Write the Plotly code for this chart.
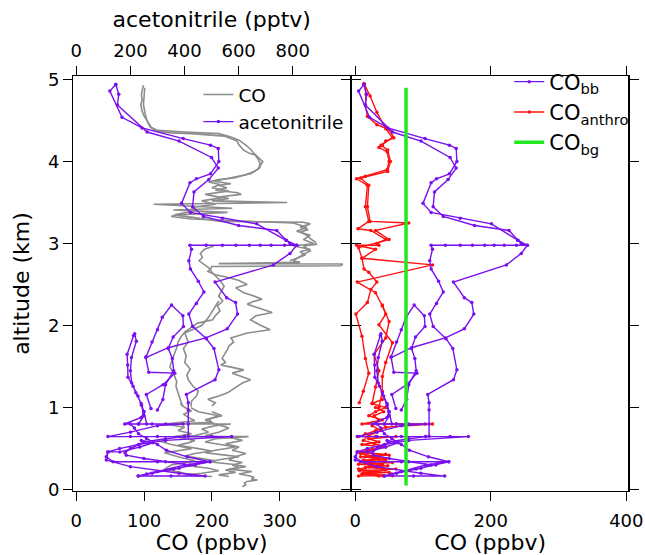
import plotly.graph_objects as go

# ---------------- data ----------------
# Acetonitrile (pptv, left panel top axis) and CO_bb (ppbv, right panel) profiles
p1_alt = [4.94, 4.86, 4.54, 4.41, 4.28, 4.20, 4.16, 4.00, 3.85, 3.79, 3.74, 3.49, 3.38, 3.31, 3.24, 3.04, 3.00,
          2.98, 2.98, 2.98, 2.98, 2.98, 2.98, 2.98, 2.98, 2.98, 2.93, 2.79, 2.69, 2.54, 2.41, 2.27, 2.14, 1.99,
          1.84, 1.72, 1.46, 1.34, 1.16, 1.06, 0.97, 0.80, 0.65]
p1_acn = [146, 124, 169, 243, 395, 496, 525, 527, 496, 444, 420, 389, 422, 540, 667, 776, 790,
          815, 770, 720, 680, 640, 590, 540, 480, 420, 426, 416, 422, 451, 472, 444, 416, 430,
          481, 509, 527, 513, 407, 414, 414, 414, 414]
p1_cobb = [13, 5, 21, 48, 103, 139, 149, 150, 139, 120, 112, 100, 112, 155, 201, 240, 245,
           254, 238, 220, 205, 191, 173, 155, 133, 112, 114, 110, 112, 123, 130, 120, 110, 115,
           134, 144, 150, 145, 107, 109, 109, 109, 109]

p2_alt = [0.99, 1.16, 1.28, 1.42, 1.43, 1.61, 1.73, 1.85, 1.96, 2.14, 2.28, 2.34, 2.53, 2.74, 2.88, 2.98,
          3.04, 3.16, 3.22, 3.33, 3.45, 3.63, 3.78, 3.92, 4.05, 4.25, 4.36, 4.69, 4.82, 4.94]
p2_acn = [276, 259, 321, 364, 268, 257, 340, 479, 558, 596, 589, 556, 513, 729, 790, 815,
          776, 741, 600, 470, 430, 435, 490, 525, 500, 380, 262, 152, 157, 146]
p2_cobb = [60, 54, 76, 91, 57, 53, 83, 133, 161, 175, 172, 161, 145, 223, 245, 254,
           240, 227, 176, 130, 115, 117, 137, 149, 140, 97, 55, 15, 17, 13]

p3_alt = [0.97, 1.10, 1.28, 1.45, 1.60, 1.72, 1.86, 1.99, 2.12, 2.25, 2.10, 1.95, 1.80, 1.62]
p3_acn = [300, 320, 330, 360, 355, 340, 358, 396, 394, 352, 318, 300, 280, 258]
p3_cobb = [68, 76, 79, 90, 88, 83, 89, 103, 102, 87, 75, 68, 61, 53]

p4_alt = [0.80, 0.90, 1.03, 1.14, 1.26, 1.37, 1.52, 1.65, 1.88, 1.90, 1.81, 1.61, 1.45, 1.30, 1.18, 1.05, 0.95, 0.80]
p4_acn = [230, 250, 241, 228, 210, 191, 190, 188, 212, 216, 222, 204, 200, 205, 220, 240, 250, 260]
p4_cobb = [43, 50, 47, 42, 36, 29, 29, 28, 37, 38, 40, 34, 32, 34, 40, 47, 50, 54]

p5_alt = [0.95, 0.88, 0.80, 0.80, 0.80, 0.80, 0.80, 0.78, 0.70, 0.646, 0.646, 0.646, 0.646, 0.646, 0.646,
          0.60, 0.55, 0.50, 0.46, 0.40, 0.34, 0.34, 0.34, 0.30, 0.22, 0.165, 0.165, 0.165, 0.20, 0.28,
          0.36, 0.46, 0.46, 0.52, 0.57, 0.60]
p5_acn = [250, 240, 179, 230, 280, 330, 395, 300, 200, 117, 200, 300, 400, 500, 574,
          330, 230, 160, 117, 111, 136, 300, 494, 400, 300, 229, 350, 476, 380, 200,
          111, 117, 161, 235, 284, 240]
p5_cobb = [50, 47, 25, 43, 61, 79, 103, 68, 32, 3, 32, 68, 104, 140, 167,
           79, 43, 18, 3, 0, 9, 68, 138, 104, 68, 43, 86, 132, 97, 32,
           0, 3, 18, 45, 63, 47]

p6_alt = [0.646, 0.62, 0.58, 0.50, 0.45, 0.42, 0.38, 0.34, 0.30, 0.26, 0.22, 0.19, 0.165, 0.20, 0.25,
          0.30, 0.34, 0.40, 0.48, 0.55, 0.62, 0.68, 0.75, 0.80]
p6_acn = [400, 330, 250, 200, 180, 185, 250, 330, 420, 380, 300, 260, 229, 280, 360,
          440, 494, 410, 333, 300, 260, 230, 215, 200]
p6_cobb = [104, 79, 50, 32, 25, 27, 50, 79, 112, 97, 68, 54, 43, 61, 90,
           119, 138, 108, 80, 68, 54, 43, 38, 32]

# Total CO (ppbv, left panel bottom axis)
g1_alt = [4.93, 4.88, 4.82, 4.75, 4.69, 4.62, 4.57, 4.49, 4.41, 4.37, 4.35, 4.34, 4.33, 4.31, 4.28, 4.25,
          4.20, 4.14, 4.10, 4.08, 4.03, 3.98, 3.94, 3.90, 3.85, 3.82, 3.79, 3.76, 3.73, 3.71, 3.68, 3.65,
          3.62, 3.60, 3.57, 3.55, 3.52, 3.50, 3.48, 3.45, 3.43, 3.41, 3.38, 3.35, 3.31, 3.27, 3.26, 3.24,
          3.20, 3.17, 3.14, 3.10, 3.06, 3.02, 2.99, 2.97, 2.94, 2.91, 2.87, 2.83, 2.79]
g1_co = [99, 98, 96, 97, 95, 97, 99, 105, 111, 118, 140, 170, 189, 218, 228, 237,
         240, 247, 255, 264, 268, 271, 270, 267, 257, 240, 223, 203, 228, 210, 222, 205,
         238, 243, 212, 225, 200, 311, 114, 180, 230, 143, 223, 145, 180, 213, 335, 345,
         330, 342, 330, 340, 345, 352, 354, 335, 340, 345, 335, 328, 320]

g2_alt = [4.90, 4.80, 4.70, 4.60, 4.50, 4.42, 4.38, 4.36, 4.34, 4.30, 4.26, 4.20, 4.15, 4.10, 4.05, 4.00,
          3.96, 3.92, 3.88, 3.84, 3.80, 3.78, 3.75, 3.72, 3.68, 3.64, 3.60, 3.56, 3.52, 3.48, 3.44, 3.40,
          3.36, 3.33, 3.30, 3.28, 3.25, 3.20, 3.15, 3.10, 3.05, 3.00, 2.97, 2.93, 2.90, 2.86, 2.82, 2.79]
g2_co = [101, 100, 99, 101, 104, 109, 120, 160, 210, 228, 240, 250, 257, 262, 268, 275,
         272, 270, 262, 250, 232, 210, 195, 212, 200, 225, 190, 215, 185, 205, 170, 175,
         150, 140, 170, 230, 320, 340, 325, 345, 335, 350, 320, 345, 330, 338, 325, 315]

g3_alt = [2.79, 2.77, 2.755, 2.75, 2.73, 2.72, 2.70, 2.66, 2.62, 2.59, 2.55, 2.50, 2.46, 2.40, 2.36, 2.32,
          2.29, 2.26, 2.21, 2.16, 2.12, 2.07, 2.01, 1.95, 1.91, 1.88, 1.85, 1.80, 1.75, 1.71, 1.65, 1.60,
          1.55, 1.52, 1.49, 1.46, 1.42, 1.38, 1.34, 1.30, 1.26, 1.22, 1.18, 1.14, 1.10, 1.06, 1.02]
g3_co = [320, 330, 210, 393, 390, 200, 199, 194, 205, 223, 240, 252, 235, 247, 262, 274,
         260, 252, 270, 289, 265, 257, 270, 286, 252, 240, 228, 232, 225, 223, 218, 215,
         220, 213, 230, 247, 230, 245, 257, 245, 237, 230, 223, 210, 194, 205, 200]

g4_alt = [2.97, 2.93, 2.88, 2.83, 2.79, 2.74, 2.70, 2.65, 2.60, 2.55, 2.48, 2.42, 2.36, 2.30, 2.24, 2.18,
          2.12, 2.07, 2.03, 1.98, 1.92, 1.87, 1.80, 1.73, 1.67, 1.60, 1.55, 1.50, 1.44, 1.38, 1.32, 1.26,
          1.18, 1.10, 1.01]
g4_co = [203, 189, 183, 186, 181, 190, 196, 200, 206, 212, 218, 214, 210, 216, 208, 212,
         205, 201, 179, 170, 160, 155, 150, 148, 145, 142, 140, 138, 142, 145, 148, 147,
         150, 153, 157]

g5_alt = [2.30, 2.20, 2.10, 2.00, 1.91, 1.80, 1.72, 1.63, 1.55, 1.47, 1.40, 1.34, 1.26, 1.20, 1.14, 1.08, 1.01]
g5_co = [210, 203, 195, 185, 160, 165, 158, 162, 160, 168, 163, 165, 172, 180, 177, 170, 169]

g6_alt = [1.00, 0.95, 0.90, 0.86, 0.82, 0.80, 0.80, 0.78, 0.74, 0.70, 0.66, 0.646, 0.646, 0.62, 0.58, 0.55,
          0.52, 0.48, 0.45, 0.42, 0.40, 0.37, 0.34, 0.31, 0.28, 0.25, 0.22, 0.19, 0.17, 0.15, 0.13, 0.117,
          0.10, 0.08, 0.06, 0.035]
g6_co = [169, 180, 210, 195, 200, 140, 228, 205, 185, 195, 175, 160, 254, 205, 190, 215,
         235, 205, 190, 220, 240, 215, 195, 230, 250, 225, 259, 240, 255, 262, 258, 267,
         252, 248, 250, 245]

g7_alt = [1.05, 1.00, 0.96, 0.92, 0.88, 0.84, 0.80, 0.76, 0.72, 0.68, 0.646, 0.62, 0.60, 0.57, 0.54, 0.50,
          0.47, 0.44, 0.41, 0.38, 0.35, 0.32, 0.29, 0.26, 0.23, 0.20, 0.18, 0.16]
g7_co = [153, 160, 170, 158, 165, 175, 130, 160, 150, 170, 145, 160, 175, 165, 150, 180,
         200, 175, 160, 185, 205, 180, 165, 195, 210, 185, 160, 200]

g8_alt = [0.95, 0.90, 0.85, 0.80, 0.75, 0.70, 0.66, 0.63, 0.60, 0.56, 0.52, 0.48, 0.44, 0.40, 0.36, 0.33,
          0.30, 0.27, 0.24, 0.21, 0.18, 0.16]
g8_co = [200, 215, 190, 205, 225, 210, 190, 230, 245, 220, 240, 230, 250, 235, 225, 245,
         230, 240, 220, 235, 210, 225]

g9_alt = [0.60, 0.55, 0.50, 0.45, 0.40, 0.35, 0.30, 0.25, 0.20, 0.16]
g9_co = [120, 140, 170, 130, 150, 175, 140, 130, 160, 190]

# CO_anthro (ppbv, right panel)
r1_alt = [4.95, 4.82, 4.69, 4.55, 4.45, 4.39, 4.29, 4.25, 4.20, 4.17, 4.12, 4.00, 3.90, 3.82, 3.79, 3.71,
          3.45, 3.27, 3.18, 3.16, 3.05, 3.00, 2.98, 2.98, 2.93, 2.82, 2.69, 2.65, 2.53, 2.44, 2.28, 2.14,
          1.87, 1.60, 1.42, 1.20, 1.06]
r1_co = [13, 16, 15, 18, 32, 50, 57, 45, 40, 35, 47, 50, 47, 15, 2, 18,
         15, 20, 4, 23, 45, 32, 35, 2, 30, 10, 13, 20, 32, 23, 18, 1,
         10, 15, 20, 12, 6]

r2_alt = [1.00, 1.20, 1.38, 1.55, 1.79, 2.01, 2.14, 2.24, 2.40, 2.53, 2.74, 2.82, 2.95, 3.05, 3.16, 3.25,
          3.27, 3.45, 3.71, 3.80, 3.88, 4.00, 4.14, 4.20, 4.29, 4.40, 4.60, 4.80, 4.95]
r2_co = [35, 40, 40, 45, 55, 35, 45, 40, 30, 3, 114, 10, 5, 50, 30, 79,
         22, 18, 20, 8, 48, 52, 48, 38, 55, 45, 32, 22, 13]

r3_alt = [1.10, 1.05, 1.00, 0.95, 0.90, 0.85, 0.80, 0.80, 0.80, 0.76, 0.72, 0.68, 0.646, 0.646, 0.646, 0.62,
          0.58, 0.55, 0.52, 0.49, 0.46, 0.43, 0.40, 0.37, 0.34, 0.31, 0.28, 0.25, 0.22, 0.19, 0.165]
r3_co = [40, 25, 45, 30, 20, 40, 10, 60, 114, 45, 30, 15, 5, 30, 60, 20,
         35, 10, 40, 25, 5, 45, 15, 35, 8, 40, 20, 5, 30, 10, 35]

r4_alt = [1.00, 0.95, 0.90, 0.84, 0.78, 0.72, 0.66, 0.60, 0.56, 0.52, 0.48, 0.44, 0.40, 0.36, 0.32, 0.28,
          0.24, 0.20, 0.17, 0.165]
r4_co = [30, 42, 28, 35, 25, 38, 20, 12, 28, 45, 20, 8, 30, 45, 15, 28, 45, 12, 40, 5]

r5_alt = [0.45, 0.42, 0.40, 0.38, 0.36, 0.33, 0.31, 0.29, 0.27, 0.25, 0.23, 0.21, 0.19, 0.17]
r5_co = [10, 50, 8, 45, 12, 55, 5, 48, 15, 60, 6, 50, 10, 55]

r6_alt = [1.05, 1.25, 1.45, 1.65, 1.85, 2.05, 2.25]
r6_co = [25, 30, 35, 28, 45, 50, 40]

# CO background
bg_alt = [0.05, 4.90]
bg_co = [75, 75]

# tick values
alt_ticks = [0, 1, 2, 3, 4, 5]
co_left_ticks = [0, 100, 200, 300]
acn_ticks = [0, 200, 400, 600, 800]
co_right_ticks = [0, 200, 400]

# ---------------- styles ----------------
GRAY = "#8c8c8c"
PURPLE = "#7a10ee"
RED = "#ff1010"
GREEN = "#22e822"
FONT = "DejaVu Sans"

fig = go.Figure()

gray_sets = [(g1_co, g1_alt), (g2_co, g2_alt), (g3_co, g3_alt), (g4_co, g4_alt), (g5_co, g5_alt),
             (g6_co, g6_alt), (g7_co, g7_alt), (g8_co, g8_alt), (g9_co, g9_alt)]
for i, (xv, yv) in enumerate(gray_sets):
    fig.add_trace(go.Scatter(x=xv, y=yv, mode="lines", line=dict(color=GRAY, width=1.6),
                             name="CO", legendgroup="co", showlegend=(i == 0), legend="legend",
                             xaxis="x", yaxis="y"))

acn_sets = [(p1_acn, p1_alt), (p2_acn, p2_alt), (p3_acn, p3_alt), (p4_acn, p4_alt),
            (p5_acn, p5_alt), (p6_acn, p6_alt)]
for i, (xv, yv) in enumerate(acn_sets):
    fig.add_trace(go.Scatter(x=xv, y=yv, mode="lines+markers", line=dict(color=PURPLE, width=1.4),
                             marker=dict(color=PURPLE, size=3.5),
                             name="acetonitrile", legendgroup="acn", showlegend=(i == 0), legend="legend",
                             xaxis="x2", yaxis="y"))

red_sets = [(r1_co, r1_alt), (r2_co, r2_alt), (r3_co, r3_alt), (r4_co, r4_alt), (r5_co, r5_alt), (r6_co, r6_alt)]
bb_sets = [(p1_cobb, p1_alt), (p2_cobb, p2_alt), (p3_cobb, p3_alt), (p4_cobb, p4_alt),
           (p5_cobb, p5_alt), (p6_cobb, p6_alt)]

for i, (xv, yv) in enumerate(red_sets):
    fig.add_trace(go.Scatter(x=xv, y=yv, mode="lines+markers", line=dict(color=RED, width=1.4),
                             marker=dict(color=RED, size=3.5),
                             name="CO<sub>anthro</sub>", legendgroup="anthro", showlegend=(i == 0),
                             legend="legend2", legendrank=2, xaxis="x3", yaxis="y2"))
for i, (xv, yv) in enumerate(bb_sets):
    fig.add_trace(go.Scatter(x=xv, y=yv, mode="lines+markers", line=dict(color=PURPLE, width=1.4),
                             marker=dict(color=PURPLE, size=3.5),
                             name="CO<sub>bb</sub>", legendgroup="bb", showlegend=(i == 0),
                             legend="legend2", legendrank=1, xaxis="x3", yaxis="y2"))
fig.add_trace(go.Scatter(x=bg_co, y=bg_alt, mode="lines", line=dict(color=GREEN, width=3.5),
                         name="CO<sub>bg</sub>", legend="legend2", legendrank=3, xaxis="x3", yaxis="y2"))

axis_common = dict(showgrid=False, zeroline=False, showline=True, linecolor="black", linewidth=1,
                   ticks="outside", ticklen=9, tickcolor="black", tickwidth=1,
                   tickfont=dict(family=FONT, size=18, color="black"))
yr = [-0.017, 5.043]

fig.update_layout(
    width=645, height=555,
    margin=dict(l=73, r=17, t=76, b=64, autoexpand=False),
    paper_bgcolor="white", plot_bgcolor="white",
    font=dict(family=FONT, size=18, color="black"),
    xaxis=dict(domain=[0, 0.5], range=[-4.9, 404.4], tickvals=co_left_ticks, anchor="y",
               title=dict(text="CO (ppbv)", standoff=4), ticklabelstandoff=4, **axis_common),
    xaxis2=dict(overlaying="x", side="top", anchor="y", range=[-12.2, 1013.7], tickvals=acn_ticks,
                title=dict(text="acetonitrile (pptv)", standoff=6), ticklabelstandoff=2, **axis_common),
    yaxis=dict(domain=[0, 1], anchor="x", range=yr, tickvals=alt_ticks, mirror="ticks",
               title=dict(text="altitude (km)", standoff=12), **axis_common),
    xaxis3=dict(domain=[0.5036, 1], anchor="y2", range=[-4, 402.5], tickvals=co_right_ticks, mirror="ticks",
                title=dict(text="CO (ppbv)", standoff=4), ticklabelstandoff=4, **axis_common),
    yaxis2=dict(domain=[0, 1], anchor="x3", range=yr, tickvals=alt_ticks, mirror="ticks",
                showticklabels=False,
                **{k: v for k, v in axis_common.items() if k != "linewidth"}, linewidth=2),
    legend=dict(x=0.226, y=1.0, xanchor="left", yanchor="top", bgcolor="rgba(0,0,0,0)",
                font=dict(family=FONT, size=18.5), tracegroupgap=0, itemwidth=30),
    legend2=dict(x=0.786, y=1.035, xanchor="left", yanchor="top", bgcolor="rgba(0,0,0,0)",
                 font=dict(family=FONT, size=21), tracegroupgap=0, itemwidth=30),
)

fig.write_html("out.html")
